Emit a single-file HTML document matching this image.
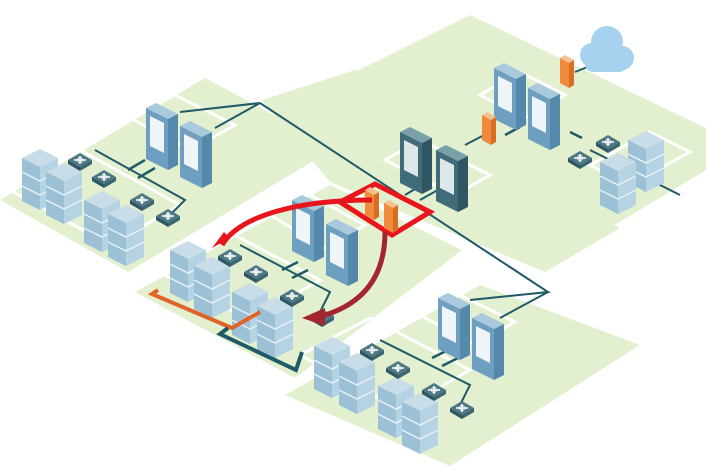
<!DOCTYPE html>
<html><head><meta charset="utf-8"><style>html,body{margin:0;padding:0;background:#fff}svg{display:block}</style></head>
<body>
<svg width="706" height="466" viewBox="0 0 706 466" xmlns="http://www.w3.org/2000/svg">
<defs>
<g id="stk">
 <polygon points="-18,0 0,-9 18,0 0,9" fill="#c9dde9"/>
 <polygon points="-18,0 0,9 0,52 -18,43" fill="#9cc0d6"/>
 <polygon points="0,9 18,0 18,43 0,52" fill="#b6d3e4"/>
 <path d="M-18,14 L0,23 L18,14 M-18,28 L0,37 L18,28" stroke="#e6f0f6" stroke-width="1.5" fill="none"/>
</g>
<g id="twr">
 <polygon points="0,0 10,-5 32,6 22,11" fill="#a9c9dd"/>
 <polygon points="0,0 22,11 22,62 0,51" fill="#6f9fc0"/>
 <polygon points="22,11 32,6 32,57 22,62" fill="#5589ab"/>
 <polygon points="4,8 18,15 18,45 4,38" fill="#eef4f8"/>
</g>
<g id="twd">
 <polygon points="0,0 10,-5 32,6 22,11" fill="#7aa0aa"/>
 <polygon points="0,0 22,11 22,62 0,51" fill="#3f6c78"/>
 <polygon points="22,11 32,6 32,57 22,62" fill="#2e5763"/>
 <polygon points="4,8 18,15 18,45 4,38" fill="#dde8ea"/>
</g>
<g id="sw">
 <polygon points="-12,0 0,-7 12,0 0,7" fill="#4d7884"/>
 <polygon points="-12,0 0,7 0,11 -12,4" fill="#2f5662"/>
 <polygon points="0,7 12,0 12,4 0,11" fill="#3a6470"/>
 <path d="M-6,0 L6,0 M0,-4 L0,4" stroke="#fff" stroke-width="1.5"/>
 <circle cx="0" cy="0" r="2.5" fill="none" stroke="#fff" stroke-width="1"/>
</g>
<g id="fw">
 <polygon points="0,0 5,-3 14,2 9,5" fill="#f7c090"/>
 <polygon points="0,0 9,5 9,30 0,25" fill="#f08a3c"/>
 <polygon points="9,5 14,2 14,27 9,30" fill="#d96d22"/>
</g>
</defs>

<!-- platforms -->
<polygon points="0,200 205,78 335,148 128,272" fill="#e2f0cf"/>
<polygon points="355,72 470,15 706,128 706,170 590,240 470,180" fill="#e2f0cf"/>
<polygon points="262,100 355,70 620,228 545,272 330,182" fill="#e2f0cf"/>
<polygon points="135,292 330,185 462,250 295,378" fill="#e2f0cf"/>
<polygon points="285,395 480,285 640,345 450,466" fill="#e2f0cf"/>

<!-- white outlines -->
<g fill="none" stroke="#fff" stroke-width="3">
<polygon points="10,190 80,150 180,205 110,245"/>
<polygon points="130,118 175,95 235,125 190,150"/>
<polygon points="155,270 225,230 320,280 250,320"/>
<polygon points="270,215 310,195 365,225 325,248"/>
<polygon points="300,355 370,318 470,370 400,410"/>
<polygon points="420,315 460,295 515,322 475,345"/>
<polygon points="590,165 650,132 690,152 630,185"/>
<polygon points="480,95 520,72 565,95 525,118"/>
<polygon points="385,160 420,140 490,175 455,195"/>
</g>

<!-- connection lines -->
<g stroke="#1f5a66" stroke-width="2" fill="none">
<path d="M180,112 L260,103 L215,128"/>
<path d="M260,103 L548,292 L470,300"/>
<path d="M548,292 L500,318"/>
<path d="M95,150 L185,200 L165,220"/>
<path d="M240,245 L330,292 L320,312"/>
<path d="M380,340 L470,385 L460,405"/>
<path d="M405,195 L430,180 M420,200 L445,186"/>
<path d="M465,145 L490,132 M575,72 L590,66 M600,62 L630,50"/>
<path d="M590,150 L680,195"/>
</g>
<g stroke="#1f5a66" stroke-width="2.5">
<path d="M128,170 L145,160 M138,178 L155,168"/>
<path d="M282,270 L298,262 M292,278 L308,270"/>
<path d="M432,358 L448,350 M442,366 L458,358"/>
<path d="M505,135 L520,127 M570,132 L582,138"/>
</g>

<!-- left cluster -->
<use href="#stk" x="40" y="158"/><use href="#stk" x="64" y="172"/>
<use href="#stk" x="102" y="200"/><use href="#stk" x="126" y="214"/>
<use href="#sw" x="80" y="160"/><use href="#sw" x="104" y="177"/>
<use href="#sw" x="142" y="200"/><use href="#sw" x="168" y="216"/>
<use href="#twr" x="146" y="108"/><use href="#twr" x="180" y="126"/>

<!-- top right -->
<use href="#twr" x="494" y="68"/><use href="#twr" x="528" y="88"/>
<use href="#stk" x="646" y="140"/><use href="#stk" x="618" y="162"/>
<use href="#sw" x="608" y="142"/><use href="#sw" x="580" y="158"/>
<use href="#fw" x="482" y="115"/><use href="#fw" x="560" y="58"/>
<g fill="#a6d2f0"><circle cx="592" cy="55" r="12"/><circle cx="607" cy="42" r="16"/><circle cx="622" cy="58" r="12"/><rect x="585" y="52" width="42" height="20" rx="8"/></g>

<!-- middle -->
<use href="#twd" x="400" y="132"/><use href="#twd" x="436" y="150"/>
<use href="#twr" x="292" y="200"/><use href="#twr" x="326" y="224"/>
<use href="#stk" x="188" y="250"/><use href="#stk" x="212" y="266"/>
<use href="#stk" x="250" y="292"/><use href="#stk" x="275" y="306"/>
<use href="#sw" x="230" y="256"/><use href="#sw" x="256" y="272"/>
<use href="#sw" x="292" y="296"/><use href="#sw" x="322" y="316"/>
<polyline points="158,290 152,294 232,328 260,312" fill="none" stroke="#e0642a" stroke-width="4"/>
<polyline points="228,328 220,334 296,370 302,352" fill="none" stroke="#1f5a66" stroke-width="4"/>

<!-- bottom -->
<use href="#twr" x="438" y="298"/><use href="#twr" x="472" y="318"/>
<use href="#stk" x="332" y="346"/><use href="#stk" x="357" y="362"/>
<use href="#stk" x="396" y="386"/><use href="#stk" x="420" y="402"/>
<use href="#sw" x="372" y="350"/><use href="#sw" x="398" y="368"/>
<use href="#sw" x="434" y="390"/><use href="#sw" x="462" y="408"/>

<!-- red box & firewalls -->
<polygon points="340,202 375,184 430,212 392,235" fill="none" stroke="#e8161c" stroke-width="5"/>
<use href="#fw" x="365" y="190"/><use href="#fw" x="384" y="203"/>
<path d="M372,200 C300,200 240,215 222,245" fill="none" stroke="#e8161c" stroke-width="5"/>
<polygon points="212,248 230,238 224,232" fill="#e8161c"/>
<path d="M385,232 C385,280 360,305 322,316" fill="none" stroke="#a32530" stroke-width="5"/>
<polygon points="302,318 325,308 325,326" fill="#a32530"/>
</svg>
</body></html>
